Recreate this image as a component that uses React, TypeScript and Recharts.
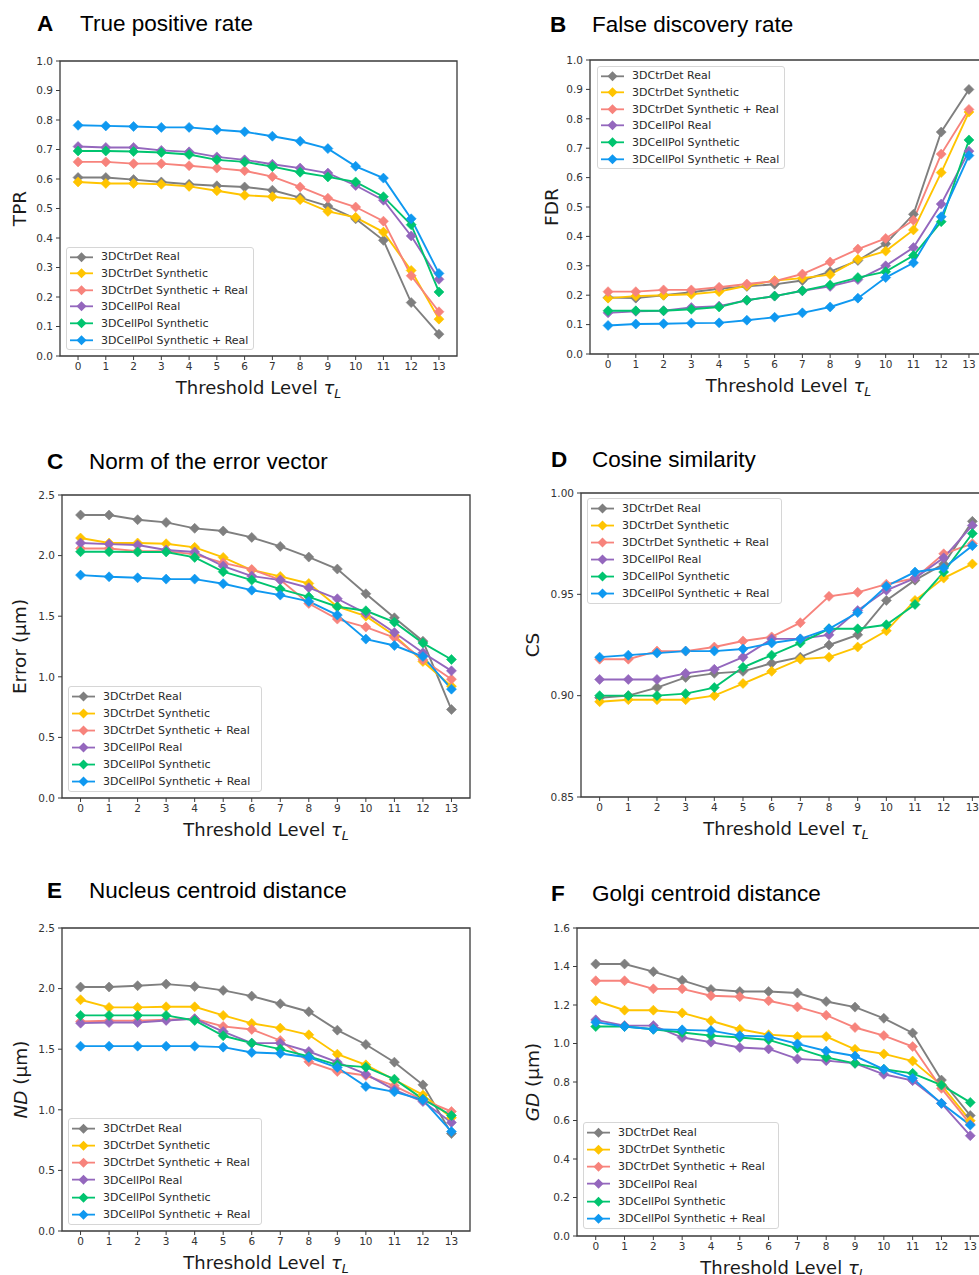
import { LineChart, Line, XAxis, YAxis, Legend, ReferenceArea } from 'recharts'
import type { ReactNode } from 'react'

const levels = [0, 1, 2, 3, 4, 5, 6, 7, 8, 9, 10, 11, 12, 13]
const seriesNames = [
  '3DCtrDet Real',
  '3DCtrDet Synthetic',
  '3DCtrDet Synthetic + Real',
  '3DCellPol Real',
  '3DCellPol Synthetic',
  '3DCellPol Synthetic + Real',
]
const seriesColors = ['#7f7f7f', '#ffc400', '#f7837c', '#9467bd', '#00c46f', '#0f98f0']

// A — true positive rate
const tprCtrReal = [0.605, 0.605, 0.598, 0.59, 0.582, 0.577, 0.573, 0.562, 0.537, 0.508, 0.465, 0.392, 0.181, 0.074]
const tprCtrSyn = [0.59, 0.585, 0.585, 0.582, 0.575, 0.56, 0.545, 0.54, 0.53, 0.49, 0.47, 0.42, 0.29, 0.125]
const tprCtrSynReal = [0.658, 0.658, 0.652, 0.652, 0.645, 0.637, 0.628, 0.608, 0.573, 0.535, 0.505, 0.457, 0.272, 0.15]
const tprCellReal = [0.71, 0.707, 0.707, 0.697, 0.692, 0.675, 0.665, 0.65, 0.637, 0.62, 0.578, 0.528, 0.407, 0.26]
const tprCellSyn = [0.695, 0.695, 0.693, 0.69, 0.683, 0.665, 0.658, 0.642, 0.623, 0.607, 0.59, 0.54, 0.445, 0.217]
const tprCellSynReal = [0.782, 0.78, 0.778, 0.775, 0.775, 0.767, 0.76, 0.745, 0.728, 0.703, 0.643, 0.603, 0.465, 0.28]

// B — false discovery rate
const fdrCtrReal = [0.192, 0.19, 0.2, 0.21, 0.222, 0.23, 0.237, 0.25, 0.28, 0.318, 0.375, 0.475, 0.755, 0.9]
const fdrCtrSyn = [0.19, 0.197, 0.2, 0.203, 0.212, 0.232, 0.25, 0.258, 0.27, 0.322, 0.35, 0.422, 0.617, 0.823]
const fdrCtrSynReal = [0.212, 0.212, 0.218, 0.218, 0.227, 0.238, 0.248, 0.272, 0.313, 0.357, 0.393, 0.455, 0.68, 0.832]
const fdrCellReal = [0.14, 0.145, 0.147, 0.158, 0.163, 0.183, 0.197, 0.215, 0.23, 0.253, 0.3, 0.362, 0.51, 0.69]
const fdrCellSyn = [0.147, 0.147, 0.147, 0.152, 0.16, 0.183, 0.197, 0.215, 0.235, 0.26, 0.28, 0.335, 0.45, 0.728]
const fdrCellSynReal = [0.097, 0.102, 0.103, 0.105, 0.106, 0.115, 0.125, 0.14, 0.16, 0.19, 0.26, 0.31, 0.467, 0.675]

// C — norm of the error vector
const errCtrReal = [2.335, 2.335, 2.296, 2.274, 2.225, 2.203, 2.15, 2.076, 1.988, 1.889, 1.685, 1.487, 1.294, 0.73]
const errCtrSyn = [2.145, 2.104, 2.104, 2.098, 2.068, 1.985, 1.881, 1.828, 1.77, 1.578, 1.5, 1.341, 1.126, 0.922]
const errCtrSynReal = [2.059, 2.059, 2.037, 2.037, 2.01, 1.94, 1.886, 1.8, 1.605, 1.476, 1.41, 1.324, 1.14, 0.98]
const errCellReal = [2.104, 2.095, 2.087, 2.046, 2.03, 1.914, 1.831, 1.798, 1.735, 1.644, 1.523, 1.366, 1.198, 1.049]
const errCellSyn = [2.032, 2.032, 2.03, 2.03, 1.985, 1.867, 1.798, 1.724, 1.66, 1.578, 1.545, 1.451, 1.278, 1.143]
const errCellSynReal = [1.839, 1.825, 1.817, 1.806, 1.806, 1.768, 1.715, 1.674, 1.622, 1.509, 1.311, 1.258, 1.167, 0.898]

// D — cosine similarity
const csCtrReal = [0.899, 0.9, 0.904, 0.909, 0.911, 0.912, 0.916, 0.919, 0.925, 0.93, 0.947, 0.957, 0.965, 0.986]
const csCtrSyn = [0.897, 0.898, 0.898, 0.898, 0.9, 0.906, 0.912, 0.918, 0.919, 0.924, 0.932, 0.947, 0.958, 0.965]
const csCtrSynReal = [0.918, 0.918, 0.922, 0.922, 0.924, 0.927, 0.929, 0.936, 0.949, 0.951, 0.955, 0.958, 0.97, 0.975]
const csCellReal = [0.908, 0.908, 0.908, 0.911, 0.913, 0.919, 0.928, 0.928, 0.93, 0.942, 0.952, 0.958, 0.968, 0.984]
const csCellSyn = [0.9, 0.9, 0.9, 0.901, 0.904, 0.914, 0.92, 0.926, 0.933, 0.933, 0.935, 0.945, 0.961, 0.98]
const csCellSynReal = [0.919, 0.92, 0.921, 0.922, 0.922, 0.923, 0.926, 0.928, 0.933, 0.941, 0.954, 0.961, 0.963, 0.974]

// E — nucleus centroid distance
const ndCtrReal = [2.013, 2.013, 2.024, 2.037, 2.018, 1.985, 1.938, 1.875, 1.809, 1.657, 1.539, 1.393, 1.206, 0.804]
const ndCtrSyn = [1.908, 1.845, 1.845, 1.85, 1.85, 1.779, 1.713, 1.674, 1.619, 1.459, 1.371, 1.247, 1.123, 0.935]
const ndCtrSynReal = [1.729, 1.735, 1.735, 1.743, 1.751, 1.688, 1.663, 1.572, 1.396, 1.316, 1.283, 1.198, 1.082, 0.986]
const ndCellReal = [1.715, 1.72, 1.72, 1.737, 1.751, 1.646, 1.55, 1.55, 1.481, 1.393, 1.294, 1.165, 1.068, 0.895]
const ndCellSyn = [1.779, 1.779, 1.779, 1.779, 1.737, 1.611, 1.55, 1.501, 1.44, 1.371, 1.352, 1.253, 1.088, 0.953]
const ndCellSynReal = [1.525, 1.525, 1.525, 1.525, 1.525, 1.517, 1.473, 1.465, 1.432, 1.349, 1.192, 1.148, 1.082, 0.82]

// F — golgi centroid distance
const gdCtrReal = [1.413, 1.413, 1.373, 1.328, 1.281, 1.27, 1.27, 1.262, 1.218, 1.189, 1.131, 1.055, 0.81, 0.626]
const gdCtrSyn = [1.222, 1.173, 1.173, 1.159, 1.118, 1.074, 1.046, 1.036, 1.036, 0.97, 0.946, 0.909, 0.784, 0.599]
const gdCtrSynReal = [1.326, 1.326, 1.284, 1.284, 1.248, 1.243, 1.222, 1.19, 1.147, 1.083, 1.041, 0.984, 0.767, 0.581]
const gdCellReal = [1.123, 1.093, 1.093, 1.031, 1.007, 0.979, 0.972, 0.92, 0.911, 0.897, 0.84, 0.807, 0.689, 0.521]
const gdCellSyn = [1.088, 1.088, 1.074, 1.057, 1.041, 1.031, 1.019, 0.975, 0.928, 0.897, 0.866, 0.845, 0.784, 0.694]
const gdCellSynReal = [1.111, 1.088, 1.074, 1.071, 1.067, 1.041, 1.036, 0.998, 0.961, 0.935, 0.866, 0.819, 0.689, 0.576]

const ticks01 = [0, 0.1, 0.2, 0.3, 0.4, 0.5, 0.6, 0.7, 0.8, 0.9, 1.0]
const ticks25 = [0, 0.5, 1.0, 1.5, 2.0, 2.5]
const ticksCs = [0.85, 0.9, 0.95, 1.0]
const ticks16 = [0, 0.2, 0.4, 0.6, 0.8, 1.0, 1.2, 1.4, 1.6]

const TICK_FONT = 'DejaVu Sans, sans-serif'
const TITLE_FONT = 'Liberation Sans, Arial, sans-serif'
const AXIS_COLOR = '#3a3a3a'

function diamondPath(cx: number, cy: number, r: number) {
  return `M${cx},${cy - r}L${cx + r},${cy}L${cx},${cy + r}L${cx - r},${cy}Z`
}

const diamondDot = (color: string) => (p: any) => {
  const { cx, cy, index } = p
  if (cx == null || cy == null) return <g key={`dot-${index}`} />
  return <path key={`dot-${index}`} d={diamondPath(cx, cy, 5)} fill={color} stroke={color} strokeWidth={0.6} />
}

type Box = { l: number; t: number; r: number; b: number }
type LegendRect = { x: number; y: number; w: number; h: number }

type PanelProps = {
  letter: string
  title: string
  titleX: number
  titleTextX: number
  titleBase: number
  series: number[][]
  yDomain: [number, number]
  yTicks: number[]
  yDigits: number
  yLabel: ReactNode
  yLabelX: number
  plot: Box
  legend: LegendRect
}

function Panel(props: PanelProps) {
  const { plot, legend } = props
  const chartX = plot.l - 60
  const chartY = plot.t - 10
  const plotW = plot.r - plot.l
  const plotH = plot.b - plot.t
  const width = plotW + 70
  const height = plotH + 60
  const rowH = legend.h / 6.2

  const rows = levels.map((lv, j) => {
    const row: Record<string, number> = { level: lv }
    props.series.forEach((s, i) => {
      row[`s${i}`] = s[j]
    })
    return row
  })

  const legendContent = (lp: any) => {
    // keep the plotting order, not the alphabetical one
    const items = [...(lp.payload || [])].sort(
      (a: any, b: any) => seriesNames.indexOf(a.value) - seriesNames.indexOf(b.value),
    )
    return (
      <div
        style={{
          width: legend.w,
          height: legend.h,
          boxSizing: 'border-box',
          border: '1px solid #d6d6d6',
          borderRadius: 3,
          background: 'rgba(255,255,255,0.85)',
          paddingTop: (legend.h - 6 * rowH) / 2 - 1,
        }}
      >
        {items.map((it: any) => (
          <div key={it.value} style={{ height: rowH, display: 'flex', alignItems: 'center' }}>
            <svg width={30} height={rowH} style={{ display: 'block', flex: 'none' }}>
              <line x1={3} x2={26} y1={rowH / 2} y2={rowH / 2} stroke={it.color} strokeWidth={1.8} />
              <path d={diamondPath(14.5, rowH / 2, 5)} fill={it.color} />
            </svg>
            <span
              style={{
                marginLeft: 4,
                fontFamily: TICK_FONT,
                fontSize: 11,
                color: '#2a2a2a',
                whiteSpace: 'nowrap',
                lineHeight: 1,
              }}
            >
              {it.value}
            </span>
          </div>
        ))}
      </div>
    )
  }

  const xLabel = () => (
    <text
      x={60 + plotW / 2}
      y={10 + plotH + 38}
      textAnchor="middle"
      fontFamily={TICK_FONT}
      fontSize={18}
      fill="#1a1a1a"
    >
      Threshold Level{' '}
      <tspan fontStyle="italic">τ</tspan>
      <tspan fontStyle="italic" fontSize={12.5} dy={4}>
        L
      </tspan>
    </text>
  )

  const yLabel = () => (
    <text
      x={props.yLabelX - chartX}
      y={10 + plotH / 2}
      transform={`rotate(-90 ${props.yLabelX - chartX} ${10 + plotH / 2})`}
      textAnchor="middle"
      dominantBaseline="central"
      fontFamily={TICK_FONT}
      fontSize={18.5}
      fill="#1a1a1a"
    >
      {props.yLabel}
    </text>
  )

  return (
    <>
      <div
        style={{
          position: 'absolute',
          left: props.titleX,
          top: props.titleBase - 19,
          fontFamily: TITLE_FONT,
          fontSize: 22.5,
          lineHeight: 1,
          fontWeight: 700,
          color: '#000',
        }}
      >
        {props.letter}
      </div>
      <div
        style={{
          position: 'absolute',
          left: props.titleTextX,
          top: props.titleBase - 19,
          fontFamily: TITLE_FONT,
          fontSize: 22.5,
          lineHeight: 1,
          color: '#000',
          whiteSpace: 'nowrap',
        }}
      >
        {props.title}
      </div>
      <div style={{ position: 'absolute', left: chartX, top: chartY }}>
        <LineChart width={width} height={height} data={rows} margin={{ top: 10, right: 10, bottom: 0, left: 20 }}>
          <XAxis
            dataKey="level"
            type="number"
            domain={[-0.65, 13.65]}
            ticks={levels}
            interval={0}
            height={50}
            axisLine={false}
            tickLine={{ stroke: AXIS_COLOR }}
            tickSize={4}
            tickMargin={3}
            tick={{ fontSize: 10.5, fill: '#333', fontFamily: TICK_FONT }}
            label={xLabel}
          />
          <YAxis
            type="number"
            domain={props.yDomain}
            ticks={props.yTicks}
            interval={0}
            width={40}
            axisLine={false}
            tickLine={{ stroke: AXIS_COLOR }}
            tickSize={4}
            tickMargin={3}
            tick={{ fontSize: 10.5, fill: '#333', fontFamily: TICK_FONT }}
            tickFormatter={(v: number) => v.toFixed(props.yDigits)}
            label={yLabel}
          />
          <ReferenceArea
            x1={-0.65}
            x2={13.65}
            y1={props.yDomain[0]}
            y2={props.yDomain[1]}
            fill="none"
            fillOpacity={0}
            stroke={AXIS_COLOR}
            strokeWidth={1.3}
          />
          {props.series.map((_, i) => (
            <Line
              key={seriesNames[i]}
              type="linear"
              dataKey={`s${i}`}
              name={seriesNames[i]}
              stroke={seriesColors[i]}
              strokeWidth={1.9}
              dot={diamondDot(seriesColors[i])}
              activeDot={false}
              isAnimationActive={false}
            />
          ))}
          <Legend
            layout="vertical"
            align="center"
            verticalAlign="middle"
            content={legendContent}
            wrapperStyle={{
              left: legend.x - chartX,
              top: legend.y - chartY,
              width: legend.w,
              height: legend.h,
            }}
          />
        </LineChart>
      </div>
    </>
  )
}

const um = ' (µm)'

export default function App() {
  return (
    <div style={{ position: 'relative', width: 979, height: 1275, overflow: 'hidden', background: '#fff' }}>
      <style>{'body{margin:0}'}</style>
      <Panel
        letter="A"
        title="True positive rate"
        titleX={37}
        titleTextX={80}
        titleBase={32}
        series={[tprCtrReal, tprCtrSyn, tprCtrSynReal, tprCellReal, tprCellSyn, tprCellSynReal]}
        yDomain={[0, 1]}
        yTicks={ticks01}
        yDigits={1}
        yLabel="TPR"
        yLabelX={19.5}
        plot={{ l: 60, t: 61, r: 457, b: 356 }}
        legend={{ x: 66, y: 247, w: 188, h: 103 }}
      />
      <Panel
        letter="B"
        title="False discovery rate"
        titleX={550}
        titleTextX={592}
        titleBase={33}
        series={[fdrCtrReal, fdrCtrSyn, fdrCtrSynReal, fdrCellReal, fdrCellSyn, fdrCellSynReal]}
        yDomain={[0, 1]}
        yTicks={ticks01}
        yDigits={1}
        yLabel="FDR"
        yLabelX={551}
        plot={{ l: 590, t: 60, r: 987, b: 354 }}
        legend={{ x: 597, y: 66, w: 188, h: 103 }}
      />
      <Panel
        letter="C"
        title="Norm of the error vector"
        titleX={47}
        titleTextX={89}
        titleBase={470}
        series={[errCtrReal, errCtrSyn, errCtrSynReal, errCellReal, errCellSyn, errCellSynReal]}
        yDomain={[0, 2.5]}
        yTicks={ticks25}
        yDigits={1}
        yLabel={'Error' + um}
        yLabelX={19}
        plot={{ l: 62, t: 495, r: 470, b: 798 }}
        legend={{ x: 68, y: 686, w: 194, h: 106 }}
      />
      <Panel
        letter="D"
        title="Cosine similarity"
        titleX={551}
        titleTextX={592}
        titleBase={468}
        series={[csCtrReal, csCtrSyn, csCtrSynReal, csCellReal, csCellSyn, csCellSynReal]}
        yDomain={[0.85, 1.0]}
        yTicks={ticksCs}
        yDigits={2}
        yLabel="CS"
        yLabelX={532.5}
        plot={{ l: 581, t: 493, r: 991, b: 797 }}
        legend={{ x: 587, y: 498, w: 195, h: 106 }}
      />
      <Panel
        letter="E"
        title="Nucleus centroid distance"
        titleX={47}
        titleTextX={89}
        titleBase={899}
        series={[ndCtrReal, ndCtrSyn, ndCtrSynReal, ndCellReal, ndCellSyn, ndCellSynReal]}
        yDomain={[0, 2.5]}
        yTicks={ticks25}
        yDigits={1}
        yLabel={
          <>
            <tspan fontStyle="italic">ND</tspan>
            <tspan>{um}</tspan>
          </>
        }
        yLabelX={19.5}
        plot={{ l: 62, t: 928, r: 470, b: 1231 }}
        legend={{ x: 68, y: 1118, w: 194, h: 107 }}
      />
      <Panel
        letter="F"
        title="Golgi centroid distance"
        titleX={551}
        titleTextX={592}
        titleBase={902}
        series={[gdCtrReal, gdCtrSyn, gdCtrSynReal, gdCellReal, gdCellSyn, gdCellSynReal]}
        yDomain={[0, 1.6]}
        yTicks={ticks16}
        yDigits={1}
        yLabel={
          <>
            <tspan fontStyle="italic">GD</tspan>
            <tspan>{um}</tspan>
          </>
        }
        yLabelX={531.5}
        plot={{ l: 577, t: 928, r: 989, b: 1236 }}
        legend={{ x: 583, y: 1122, w: 196, h: 107 }}
      />
    </div>
  )
}
